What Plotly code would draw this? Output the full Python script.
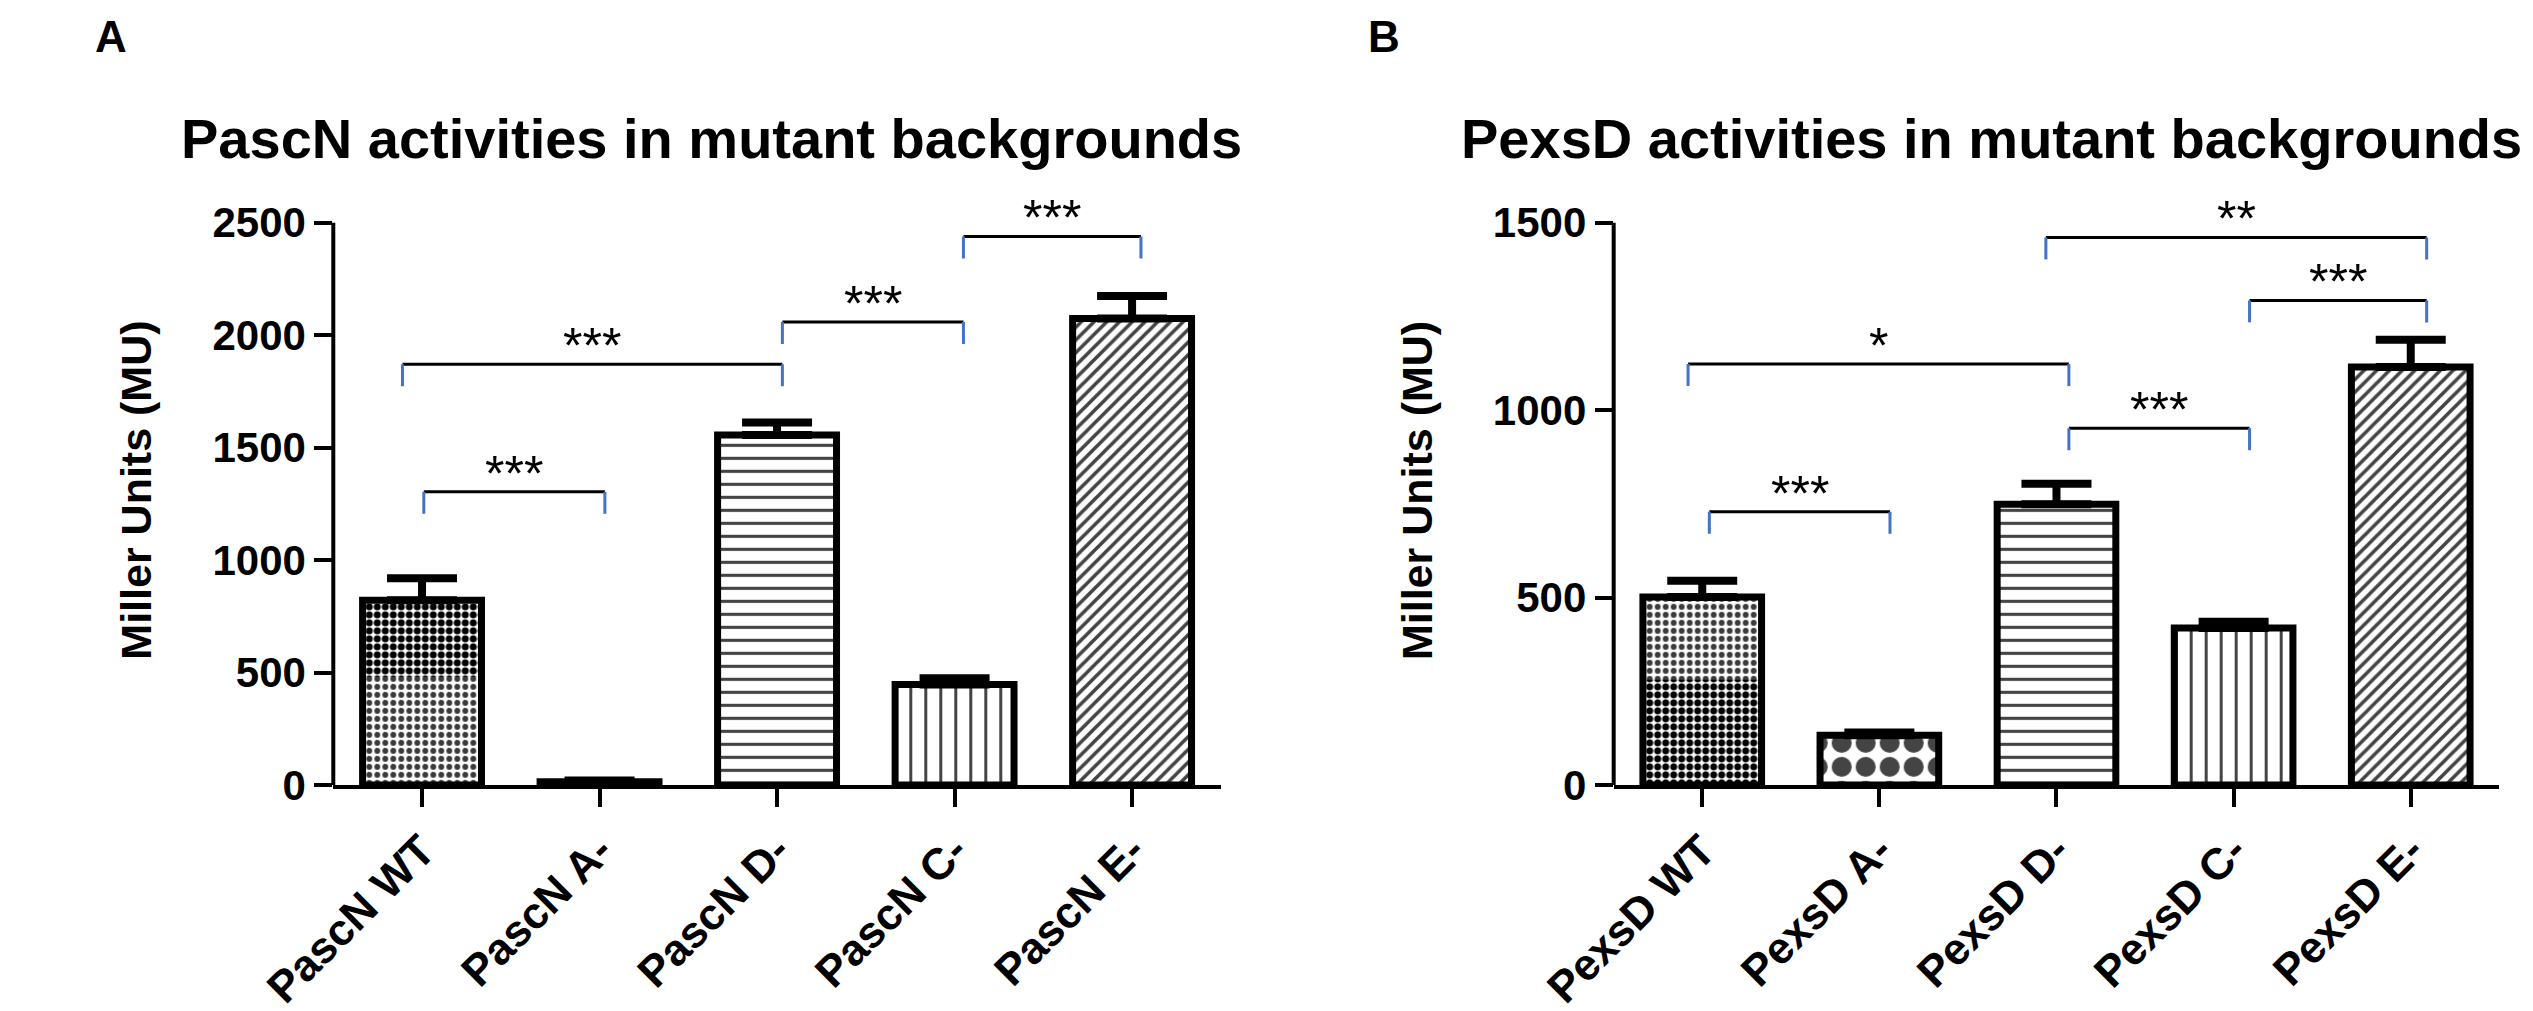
import plotly.graph_objects as go

# values (Miller units)
pascn_labels = ["PascN WT", "PascN A-", "PascN D-", "PascN C-", "PascN E-"]
pascn_mean = [822, 15, 1556, 447, 2075]
pascn_err_top = [920, 20, 1612, 475, 2174]
pascn_wt_split = 482  # WT bar pattern changes at this height

pexsd_labels = ["PexsD WT", "PexsD A-", "PexsD D-", "PexsD C-", "PexsD E-"]
pexsd_mean = [502, 133, 749, 419, 1115]
pexsd_err_top = [545, 140, 804, 436, 1188]
pexsd_wt_split = 281

# significance brackets: start / end (bar index), height, label
pascn_sig_from = [0.01, -0.11, 2.03, 3.05]
pascn_sig_to = [1.03, 2.03, 3.05, 4.05]
pascn_sig_y = [1304, 1871, 2059, 2439]
pascn_sig_txt = ["***", "***", "***", "***"]

pexsd_sig_from = [0.04, -0.08, 2.07, 3.09, 1.94]
pexsd_sig_to = [1.06, 2.07, 3.09, 4.09, 4.09]
pexsd_sig_y = [729, 1123, 952, 1293, 1461]
pexsd_sig_txt = ["***", "*", "***", "***", "**"]

W, H = 2533, 1011
FONT = "Liberation Sans, Arial, sans-serif"
BLUE = "#4472C4"
BAR_W = 0.67
y0_px, top_px, plot_top_px = 796, 220, 175

fig = go.Figure()


def add_panel(xa, ya, mean, err_top, split, dark_top, shapes_main, sizes, solid):
    xs = list(range(len(mean)))
    dark = dict(shape=".", size=8, solidity=0.6, fgcolor="black", bgcolor="white", fgopacity=1)
    light = dict(shape=".", size=8, solidity=0.42, fgcolor="#3a3a3a", bgcolor="white", fgopacity=1)
    # WT bar: two halftone fills
    fig.add_trace(go.Bar(x=[0], y=[mean[0]], width=BAR_W, xaxis=xa, yaxis=ya,
                         marker=dict(color="white", line_width=0,
                                     pattern=dark if dark_top else light),
                         hoverinfo="skip"))
    fig.add_trace(go.Bar(x=[0], y=[split], width=BAR_W, xaxis=xa, yaxis=ya,
                         marker=dict(color="white", line_width=0,
                                     pattern=light if dark_top else dark),
                         hoverinfo="skip"))
    colors = ["rgba(0,0,0,0)"] + ["white"] * (len(mean) - 1)
    fig.add_trace(go.Bar(
        x=xs, y=mean, width=BAR_W, xaxis=xa, yaxis=ya,
        marker=dict(color=colors, line=dict(color="black", width=7),
                    pattern=dict(shape=shapes_main, size=sizes, solidity=solid,
                                 fgcolor="black", bgcolor=colors, fgopacity=1)),
        error_y=dict(type="data", symmetric=False,
                     array=[t - m for t, m in zip(err_top, mean)],
                     arrayminus=[0] * len(mean),
                     color="black", thickness=8, width=35),
    ))


add_panel("x", "y", pascn_mean, pascn_err_top, pascn_wt_split, True,
          ["", "", "-", "|", "/"], [9, 9, 13, 15, 9], [0.5, 0.5, 0.24, 0.2, 0.4])
add_panel("x2", "y2", pexsd_mean, pexsd_err_top, pexsd_wt_split, False,
          ["", ".", "-", "|", "/"], [9, 24, 13, 15, 9], [0.5, 0.55, 0.24, 0.2, 0.4])

shapes = []
annotations = []


def brackets(xr, yr, x0s, x1s, ys, txts):
    for a, b, lvl, t in zip(x0s, x1s, ys, txts):
        shapes.append(dict(type="line", xref=xr, yref=yr, x0=a, x1=b, y0=lvl, y1=lvl,
                           line=dict(color="black", width=3)))
        for xx in (a, b):
            shapes.append(dict(type="line", xref=xr, yref=yr, x0=xx, x1=xx,
                               ysizemode="pixel", yanchor=lvl, y0=0, y1=-22,
                               line=dict(color=BLUE, width=3)))
        annotations.append(dict(x=(a + b) / 2, y=lvl, xref=xr, yref=yr, text=t,
                                showarrow=False, yanchor="bottom", yshift=-12,
                                font=dict(family=FONT, size=50, color="black")))


brackets("x", "y", pascn_sig_from, pascn_sig_to, pascn_sig_y, pascn_sig_txt)
brackets("x2", "y2", pexsd_sig_from, pexsd_sig_to, pexsd_sig_y, pexsd_sig_txt)

# y axis lines stop at the top tick
shapes.append(dict(type="line", xref="x domain", yref="y", x0=0, x1=0, y0=0, y1=2500,
                   line=dict(color="black", width=4)))
shapes.append(dict(type="line", xref="x2 domain", yref="y2", x0=0, x1=0, y0=0, y1=1500,
                   line=dict(color="black", width=4)))


def xaxis(dom, labels, anchor):
    return dict(domain=dom, anchor=anchor, range=[-0.5, 4.5], tickvals=list(range(5)),
                ticktext=labels, tickangle=-45, ticks="outside", ticklen=18, tickwidth=4,
                tickcolor="black", showline=True, linewidth=4, linecolor="black",
                showgrid=False, zeroline=False,
                tickfont=dict(family=FONT, size=44, color="black", weight="bold"))


def yaxis(top, anchor):
    span = top * (y0_px - plot_top_px) / (y0_px - top_px)
    return dict(domain=[(H - y0_px) / H, (H - plot_top_px) / H], anchor=anchor,
                range=[0, span], tickvals=list(range(0, top + 1, 500)), ticks="outside",
                ticklen=18, tickwidth=4, tickcolor="black", showline=False,
                showgrid=False, zeroline=False,
                tickfont=dict(family=FONT, size=42, color="black", weight="bold"))


title_font = dict(family=FONT, size=56, color="black", weight="bold")
for x, t in [(647, "PascN activities in mutant backgrounds"),
             (1967, "PexsD activities in mutant backgrounds")]:
    annotations.append(dict(x=x / W, y=1 - 134 / H, xref="paper", yref="paper", text=t,
                            showarrow=False, xanchor="center", yanchor="middle",
                            font=title_font))
for x in (54, 1374):
    annotations.append(dict(x=x / W, y=1 - 494 / H, xref="paper", yref="paper",
                            text="Miller Units (MU)", textangle=-90, showarrow=False,
                            xanchor="center", yanchor="middle",
                            font=dict(family=FONT, size=43, color="black", weight="bold")))
for x, t in [(28, "A"), (1340, "B")]:
    annotations.append(dict(x=x / W, y=1 - 29 / H, xref="paper", yref="paper", text=t,
                            showarrow=False, xanchor="center", yanchor="middle",
                            font=dict(family=FONT, size=44, color="black", weight="bold")))

fig.update_layout(
    width=W, height=H, margin=dict(l=0, r=0, t=0, b=0),
    paper_bgcolor="white", plot_bgcolor="white", showlegend=False, barmode="overlay",
    xaxis=xaxis([257 / W, 1172 / W], pascn_labels, "y"),
    yaxis=yaxis(2500, "x"),
    xaxis2=xaxis([1577 / W, 2490 / W], pexsd_labels, "y2"),
    yaxis2=yaxis(1500, "x2"),
    shapes=shapes, annotations=annotations,
)

fig.write_html("out.html")
